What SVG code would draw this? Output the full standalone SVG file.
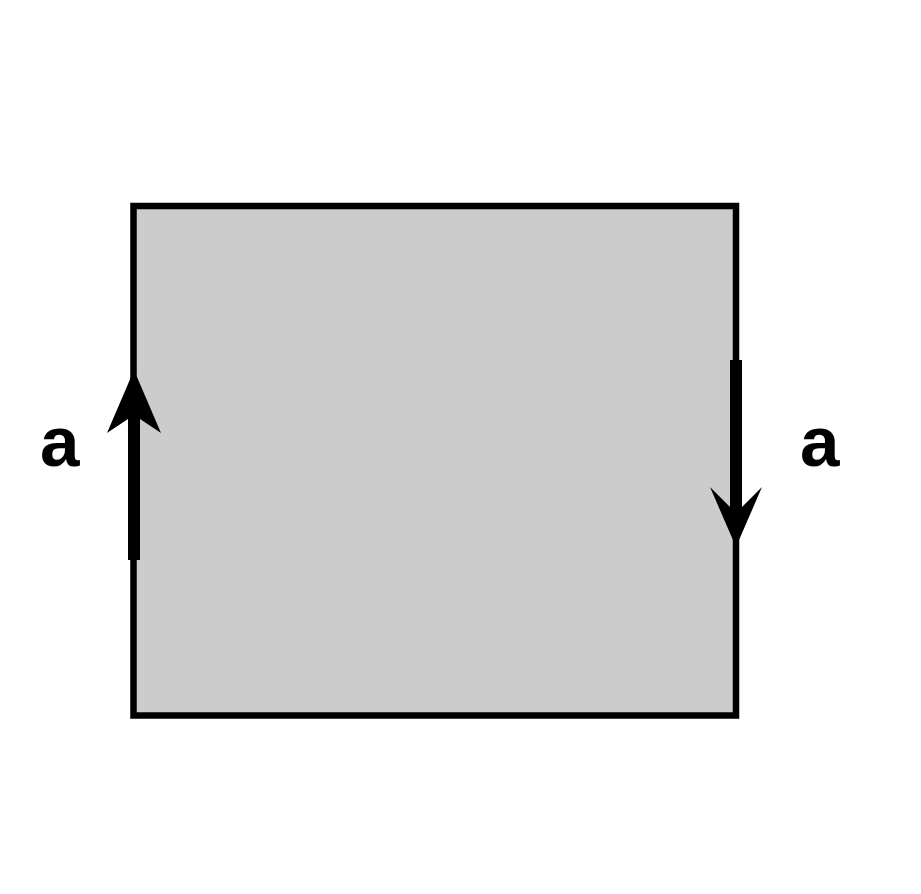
<svg xmlns="http://www.w3.org/2000/svg" width="921" height="894" viewBox="0 0 921 894">
<style>
.lbl{font-family:"Liberation Sans",Arial,sans-serif;font-size:71px;font-weight:bold;fill:#000}
.ln{stroke:#000;stroke-width:12;fill:none}
.hd{fill:#000;stroke:none}
</style>
<rect width="921" height="894" fill="#fff"/>
<g id="square">
<rect x="133.5" y="206" width="602.5" height="509.5" fill="#cccccc" stroke="#000" stroke-width="6.5"/>
</g>
<g id="connectors">
<line class="ln" x1="134" y1="560" x2="134" y2="412"/>
<polygon class="hd" points="134,370 107,433 134,415 161,433"/>
<line class="ln" x1="736" y1="360" x2="736" y2="516"/>
<polygon class="hd" points="736,547 710,487 736,513 762,487"/>
</g>
<g id="label-left"><text class="lbl" x="40" y="466">a</text></g>
<g id="label-right"><text class="lbl" x="800" y="466">a</text></g>
</svg>
